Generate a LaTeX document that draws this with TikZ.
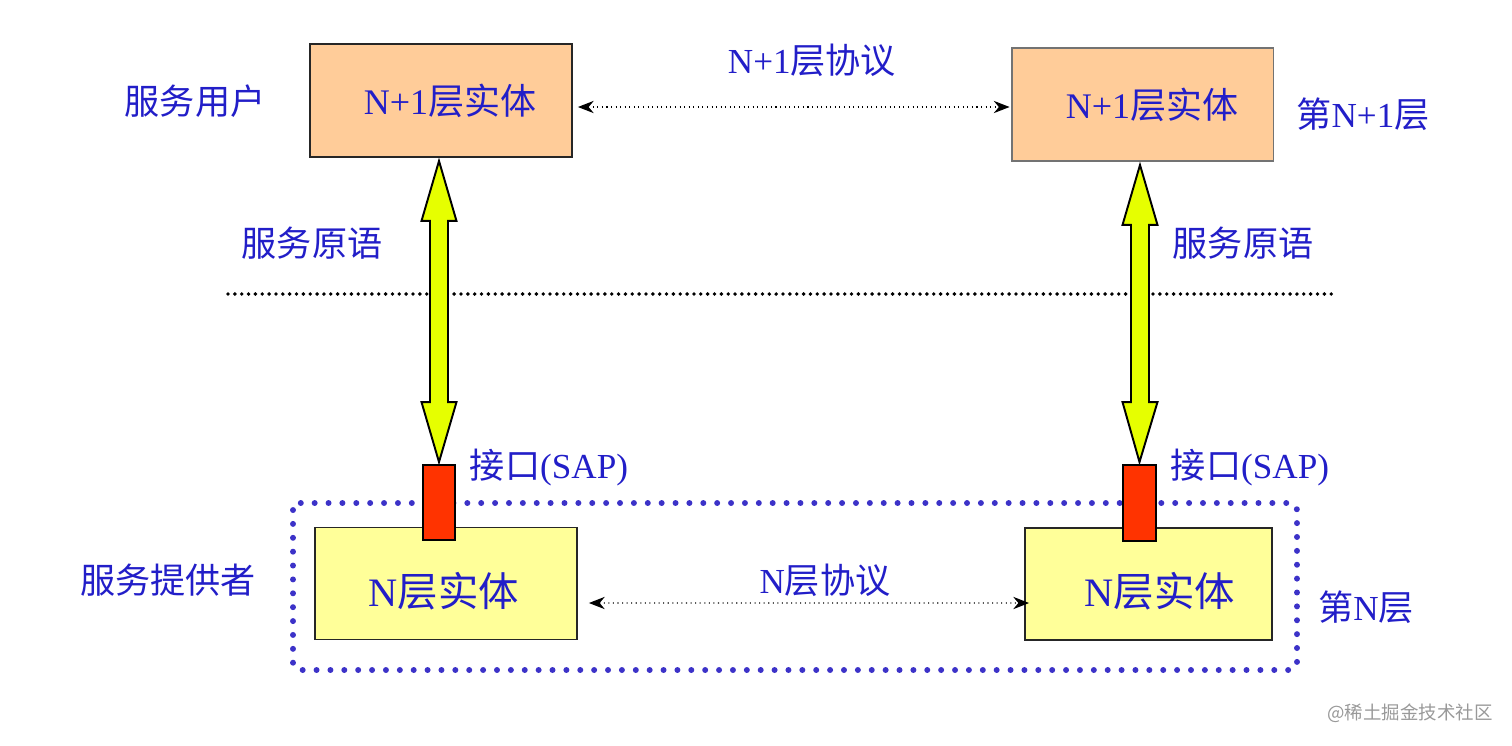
\documentclass[tikz,border=0pt]{standalone}
\usepackage{fontspec}
\setmainfont{Liberation Serif}
\newfontfamily\cjk{Noto Sans CJK SC}
\usetikzlibrary{calc,arrows.meta}
\definecolor{txtblue}{RGB}{34,30,200}
\definecolor{peach}{RGB}{255,204,153}
\definecolor{paleyel}{RGB}{255,255,153}
\definecolor{sapred}{RGB}{255,51,0}
\definecolor{arryel}{RGB}{230,255,0}
\definecolor{dotblue}{RGB}{60,50,200}
\tikzset{
  lbl/.style={text=txtblue,font=\fontsize{20}{24}\selectfont,inner sep=0pt},
  upbox/.style={draw=black!85,line width=1.1pt,fill=peach,minimum width=5.24cm,minimum height=2.26cm,inner sep=0pt,text=txtblue,font=\fontsize{20.5}{24}\selectfont},
  lowbox/.style={draw=black!85,line width=1.1pt,fill=paleyel,minimum height=2.24cm,inner sep=0pt,text=txtblue,font=\fontsize{23}{27}\selectfont},
  sapbox/.style={draw=black,line width=1.1pt,fill=sapred,minimum width=0.64cm,minimum height=1.5cm,inner sep=0pt},
  yarrow/.style={draw=black,line width=1.1pt,fill=arryel,line join=miter},
  protarrow/.style={dotted,line width=0.6pt,{Stealth[length=9pt,width=7pt]}-{Stealth[length=9pt,width=7pt]}},
}
\begin{document}
\begin{tikzpicture}[x=0.02cm,y=-0.02cm]
\useasboundingbox (0,0) rectangle (1512,745);
% layer N dotted border
\draw[dotblue,line width=3.4pt,line cap=round,dash pattern=on 0pt off 7.9pt,rounded corners=4pt] (293,503) rectangle (1297,670);
% separator line
\draw[black,line width=2.2pt,line cap=round,dash pattern=on 0pt off 3.9pt] (228,294) -- (1336,294);
% boxes
\node[upbox] (ua) at (441,100.5) {\hspace*{0.36cm}N+1{\cjk 层实体}};
\node[upbox,draw=black!55] (ub) at (1142.5,104.5) {\hspace*{0.38cm}N+1{\cjk 层实体}};
\node[lowbox,minimum width=5.24cm] (la) at (446,583.5) {\raisebox{-0.46cm}[0pt][0pt]{N{\cjk 层实体}}\hspace*{0.08cm}};
\node[lowbox,minimum width=4.94cm] (lb) at (1148.5,584) {\hspace*{0.46cm}\raisebox{-0.44cm}[0pt][0pt]{N{\cjk 层实体}}};
\node[sapbox] (sa) at (439,502.5) {};
\node[sapbox,minimum width=0.66cm,minimum height=1.52cm] (sb) at (1139.5,503) {};
% service primitive arrows
\coordinate (ta) at ($(ua.south)+(-2,3)$);
\coordinate (ba) at ($(sa.north)+(0,-2)$);
\coordinate (tb) at ($(ub.south)+(-2.5,3)$);
\coordinate (bb) at ($(sb.north)+(0,-2)$);
\foreach \t/\b in {ta/ba,tb/bb}{
  \draw[yarrow] let \p1=(\t), \p2=(\b) in
    (\x1,\y1) -- (\x1+0.35cm,\y1-1.2cm) -- (\x1+0.18cm,\y1-1.2cm) -- (\x1+0.18cm,\y2+1.2cm)
    -- (\x1+0.35cm,\y2+1.2cm) -- (\x2,\y2) -- (\x1-0.35cm,\y2+1.2cm) -- (\x1-0.18cm,\y2+1.2cm)
    -- (\x1-0.18cm,\y1-1.2cm) -- (\x1-0.35cm,\y1-1.2cm) -- cycle;
}
% protocol arrows
\coordinate (pa1) at ($(ua.east)+(5,6.5)$);
\coordinate (pa2) at ($(ub.west)+(-1,2.5)$);
\draw[protarrow] (pa1) -- (pa2);
\coordinate (pb1) at ($(la.east)+(11,19.5)$);
\coordinate (pb2) at ($(lb.west)+(5,19)$);
\draw[protarrow] (pb1) -- (pb2);
% labels
\node[lbl] (l1) at (195,101) {\cjk 服务用户};
\node[lbl] (l2) at (812,60) {N+1{\cjk 层协议}};
\node[lbl] (l3) at (1363,114) {{\cjk 第}N+1{\cjk 层}};
\node[lbl] (l4) at (312,243) {\cjk 服务原语};
\node[lbl] (l5) at (1243,243) {\cjk 服务原语};
\node[lbl] (l6) at (549,467) {{\cjk 接口}(SAP)};
\node[lbl] (l7) at (1250,467) {{\cjk 接口}(SAP)};
\node[lbl] (l8) at (168,580) {\cjk 服务提供者};
\node[lbl] (l9) at (825,580) {N{\cjk 层协议}};
\node[lbl] (l10) at (1366,607) {{\cjk 第}N{\cjk 层}};
\node[text=black!40,font=\cjk\fontsize{10.5}{12}\selectfont,inner sep=0pt] (wm) at (1410,713) {@稀土掘金技术社区};
\end{tikzpicture}
\end{document}
